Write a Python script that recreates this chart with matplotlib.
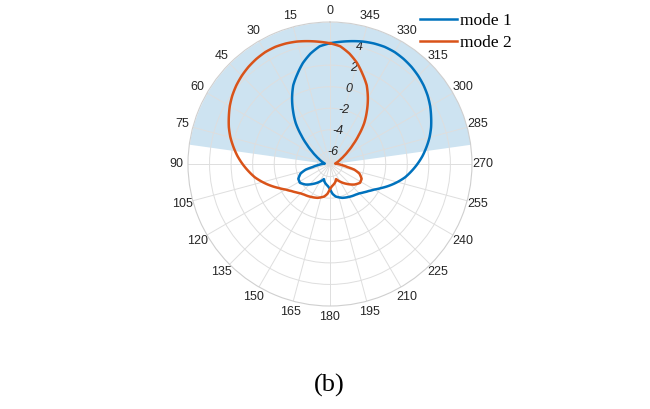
import numpy as np
import matplotlib.pyplot as plt

# radiation pattern (dB) of the two modes, angle in degrees
theta_mode1 = [0, 5, 10, 15, 20, 25, 30, 35, 40, 45, 50, 55, 60, 65, 70, 75, 80, 85, 90, 95, 100,
               103, 108, 115, 122, 130, 140, 150, 155, 158, 161, 165, 170, 175, 180, 185,
               190, 195, 200, 205, 210, 215, 220, 225, 230, 235, 240, 245, 250, 255, 260, 265,
               270, 275, 280, 285, 290, 295, 300, 305, 310, 315, 320, 325, 330, 335, 340, 345,
               350, 355, 360]
gain_mode1 = [4.03, 3.79, 3.23, 2.53, 1.69, 0.89, -0.14, -1.21, -2.24, -3.41, -4.39, -5.14, -5.66,
              -6.03, -6.26, -6.45, -6.59, -6.69, -6.45, -6.08, -5.52,
              -4.86, -4.30, -3.93, -3.88, -4.21, -4.77, -5.28, -5.52, -5.66, -5.52, -5.38, -5.24,
              -5.10, -4.86, -4.39,
              -4.11, -3.97, -3.83, -3.74, -3.65, -3.55, -3.46, -3.32, -3.08, -2.80, -2.43, -1.91,
              -1.31, -0.70, -0.09, 0.42, 0.94, 1.45, 1.92, 2.39, 2.81, 3.18, 3.56, 3.89, 4.17,
              4.40, 4.59, 4.73, 4.82, 4.82, 4.73, 4.59, 4.40, 4.21, 4.03]

theta_mode2 = [0, 5, 10, 15, 20, 25, 30, 35, 40, 45, 50, 55, 60, 65, 70, 75, 80, 85, 90, 95, 100,
               105, 110, 115, 120, 125, 130, 135, 140, 145, 150, 155, 160, 165, 170,
               175, 180, 185, 190, 195, 199, 202, 205, 210, 220, 230, 238, 245, 252, 257,
               260, 265, 270, 275, 280, 285, 290, 295, 300, 305, 310, 315, 320, 325, 330, 335,
               340, 345, 350, 355, 360]
gain_mode2 = [4.03, 4.21, 4.40, 4.59, 4.73, 4.82, 4.82, 4.73, 4.59, 4.40, 4.17, 3.89, 3.56, 3.18,
              2.81, 2.39, 1.92, 1.45, 0.94, 0.42, -0.09, -0.70, -1.31, -1.91, -2.43, -2.80, -3.08,
              -3.32, -3.46, -3.55, -3.65, -3.74, -3.83, -3.97, -4.11,
              -4.39, -4.86, -5.10, -5.24, -5.38, -5.52, -5.66, -5.52, -5.28, -4.77, -4.21, -3.88,
              -3.93, -4.30, -4.86,
              -5.52, -6.08, -6.45, -6.69, -6.59, -6.45, -6.26, -6.03, -5.66, -5.14, -4.39, -3.41,
              -2.24, -1.21, -0.14, 0.89, 1.69, 2.53, 3.23, 3.79, 4.03]

labels = ['mode 1', 'mode 2']
r_min, r_max = -7.17, 6
r_ticks = [-6, -4, -2, 0, 2, 4]
sector = 82  # half-width of the shaded sector, deg

fig = plt.figure(figsize=(6.5, 4.09), dpi=100)
ax = fig.add_axes([0.2892, 0.2518, 0.4369, 0.6944], projection='polar')
ax.set_theta_zero_location('N')
ax.set_theta_direction(1)
ax.set_rlim(r_min, r_max)

# shaded upper sector
t_fill = np.radians(np.linspace(-sector, sector, 300))
ax.fill_between(t_fill, r_min, r_max, color='#cde3f1', lw=0, zorder=0.5)

l1, = ax.plot(np.radians(theta_mode1), gain_mode1, color='#0072BD', lw=1.8, label=labels[0])
l2, = ax.plot(np.radians(theta_mode2), gain_mode2, color='#D95319', lw=1.8, label=labels[1])
# draw segments as arcs in polar space instead of straight chords
for ln in (l1, l2):
    ln.get_path()._interpolation_steps = 12

angles = list(range(0, 360, 15))
ax.set_thetagrids(angles, labels=[str(a) for a in angles], family='Liberation Sans',
                  fontsize=9, color='#262626')
ax.set_rticks(r_ticks)
ax.set_yticklabels([str(t) for t in r_ticks], family='Liberation Sans', fontsize=9,
                   style='italic', color='#262626', ha='center', va='center')
ax.set_rlabel_position(346)
ax.tick_params(axis='x', length=0, pad=1)
ax.grid(color='#dedede', lw=0.7)
ax.spines['polar'].set_color('#cfcfcf')
ax.spines['polar'].set_linewidth(0.8)

fig.legend(loc='upper left', bbox_to_anchor=(0.633, 0.99), frameon=False, borderpad=0,
           handlelength=2.1, handletextpad=0.2, labelspacing=0.35,
           prop={'family': 'Liberation Serif', 'size': 12.5})

fig.text(0.506, 0.058, '(b)', ha='center', va='center', family='Liberation Serif', fontsize=19)

fig.savefig('out.png', dpi=100)
